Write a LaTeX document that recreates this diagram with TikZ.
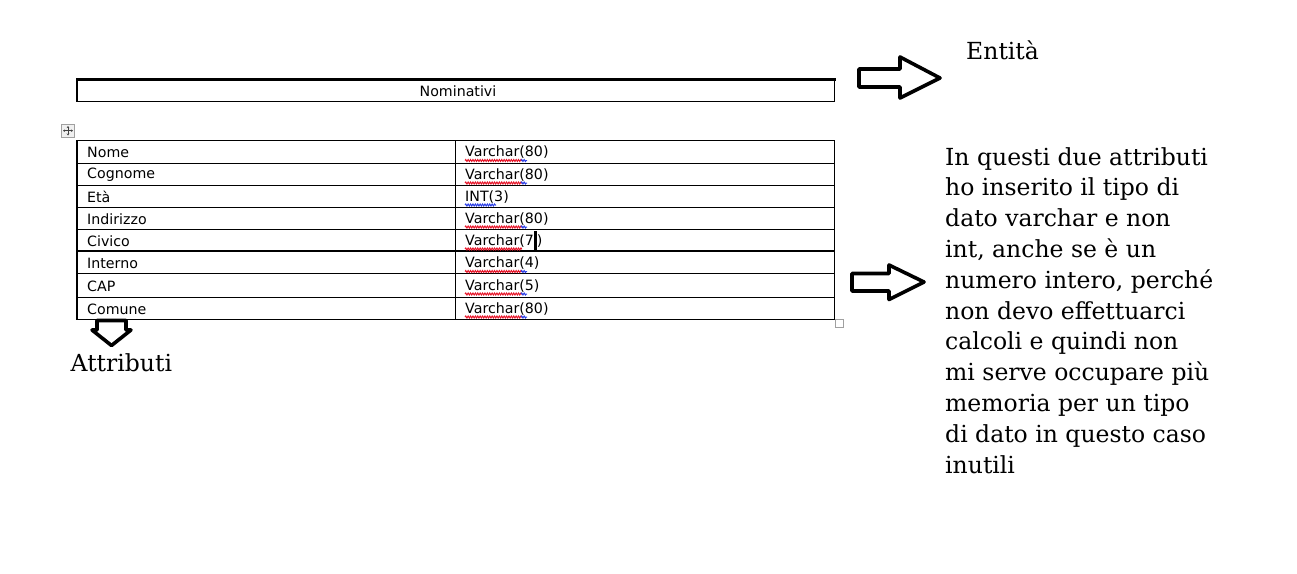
\documentclass[tikz,border=0pt]{standalone}
\usepackage{fontspec}
\setmainfont{DejaVu Serif}
\newfontfamily\tabfont{DejaVu Sans}
\usetikzlibrary{decorations.pathmorphing,arrows.meta}
\definecolor{spellred}{RGB}{230,20,40}
\definecolor{spellblue}{RGB}{40,60,230}
\definecolor{handlegray}{RGB}{160,160,160}
\tikzset{
  blockarrow/.style={draw=black, fill=white, line width=3.6pt, line join=round},
  celltext/.style={anchor=west, inner sep=0pt, font=\tabfont\fontsize{14.2}{15}\selectfont},
  serifbig/.style={inner sep=0pt, font=\fontsize{23.5}{30.8}\selectfont},
  gridline/.style={line width=1pt},
  wavy/.style={decorate, decoration={snake, segment length=2.4pt, amplitude=1pt}, line width=1pt},
  movearrow/.style={black!75, line width=0.8pt, -{Stealth[length=2pt,width=2.5pt]}},
}
\begin{document}
\begin{tikzpicture}[x=1pt,y=-1pt]
\useasboundingbox (0,0) rectangle (1297,573);
% title box
\draw[line width=1pt] (77,79) rectangle (834.5,101);
\draw[line width=3pt] (76,79) -- (835.5,79);
\draw[line width=2pt] (77,79) -- (77,101.5);
\node[celltext, anchor=center] (title) at (458,91.5) {Nominativi};
% move icon
\draw[handlegray, fill=gray!12, line width=0.8pt] (61.5,124.5) rectangle (74.5,137);
\coordinate (mc) at (68,130.7);
\draw[movearrow] (mc) -- (68,126);
\draw[movearrow] (mc) -- (68,135.5);
\draw[movearrow] (mc) -- (63,130.7);
\draw[movearrow] (mc) -- (73,130.7);
% table grid
\draw[gridline] (77,140.5) rectangle (834.5,319);
\draw[line width=2pt] (77,140) -- (77,319.5);
\draw[gridline] (455.5,140.5) -- (455.5,319);
\foreach \y in {163,185,207.3,229.3,273.3,297}
  \draw[gridline] (77,\y) -- (834.5,\y);
\draw[line width=2pt] (77,251.3) -- (834.5,251.3);
% resize handle
\draw[handlegray, line width=0.8pt] (835.5,319.5) rectangle (843.5,327.5);
% cells
\foreach \n/\a/\b/\y in {1/Nome/Varchar(80)/152.5, 2/Cognome/Varchar(80)/175, 3/Età/INT(3)/197, 4/Indirizzo/Varchar(80)/219, 6/Interno/Varchar(4)/263.5, 7/CAP/Varchar(5)/286, 8/Comune/Varchar(80)/309}{
  \node[celltext] (a\n) at (87,\y) {\a};
  \node[celltext] (b\n) at (465,\y) {\b};
}
\node[celltext] (a5) at (87,241) {Civico};
\node[celltext] (b5) at (465,241) {Varchar(7};
\node[celltext, anchor=base west] (c5) at ([xshift=2.5pt]b5.base east) {)};
% text cursor
\draw[line width=2.4pt] ([xshift=1.2pt]b5.east |- 0,231) -- ([xshift=1.2pt]b5.east |- 0,250);
% spelling underlines
\foreach \y in {160.5,183,227,271.5,294,317}{
  \draw[wavy, spellred] (465,\y) -- (522,\y);
  \draw[wavy, spellblue] (521,\y) -- (527,\y);
}
\draw[wavy, spellred] (465,249) -- (522,249);
\draw[wavy, spellblue] (465,205) -- (496,205);
% block arrows
\draw[blockarrow] (859,69) -- (900,69) -- (900,57) -- (940,78) -- (900,98) -- (900,87) -- (859,87) -- cycle;
\draw[blockarrow] (852,273.5) -- (889,273.5) -- (889,265) -- (924,282) -- (889,299.5) -- (889,291) -- (852,291) -- cycle;
\draw[blockarrow] (97,320.5) -- (126,320.5) -- (126,330) -- (131,330) -- (111.5,345.5) -- (92,330) -- (97,330) -- cycle;
% labels
\node[serifbig, anchor=base west] (entita) at (966,59) {Entità};
\node[serifbig, anchor=base west] (attributi) at (70.5,371) {Attributi};
\foreach \i/\t in {0/In questi due attributi, 1/ho inserito il tipo di, 2/dato varchar e non, 3/{int, anche se è un}, 4/{numero intero, perché}, 5/non devo effettuarci, 6/calcoli e quindi non, 7/mi serve occupare più, 8/memoria per un tipo, 9/di dato in questo caso, 10/inutili}{
  \node[serifbig, anchor=base west] (p\i) at (945,165+30.8*\i) {\t};
}
\end{tikzpicture}
\end{document}
